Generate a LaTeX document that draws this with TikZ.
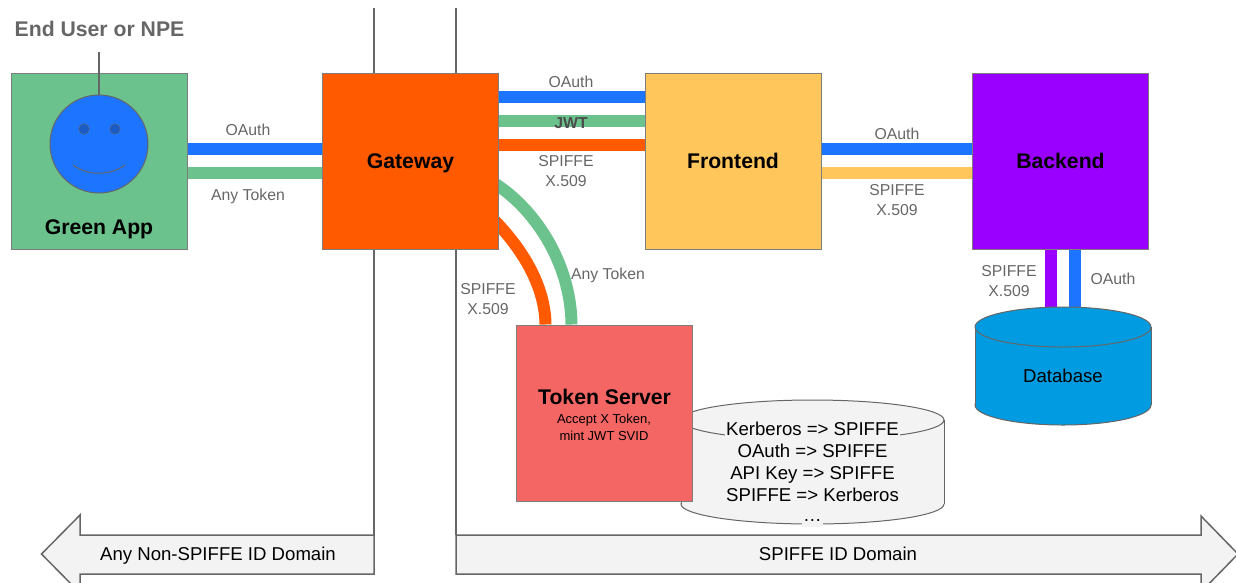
\documentclass[tikz,border=0pt]{standalone}
\usepackage{fontspec}
\setmainfont{Liberation Sans}
\usetikzlibrary{backgrounds}
\definecolor{linegray}{HTML}{666666}
\definecolor{palegray}{HTML}{F3F3F3}
\definecolor{tokenblue}{HTML}{1C74FF}
\definecolor{tokengreen}{HTML}{6CC28D}
\definecolor{tokenorange}{HTML}{FF5A00}
\definecolor{tokenyellow}{HTML}{FFC65C}
\definecolor{tokenpurple}{HTML}{9900FF}
\definecolor{tokenred}{HTML}{F46664}
\definecolor{dbblue}{HTML}{009BE0}
\definecolor{eyeblue}{HTML}{1A5CC4}
\tikzset{
  servicebox/.style={draw=linegray!85, line width=1pt, minimum size=176pt, inner sep=0pt, text height=15pt, text depth=0pt, font=\fontsize{21.2}{25}\selectfont\bfseries},
  boldtext/.style={font=\fontsize{21.2}{25}\selectfont\bfseries},
  tokenbar/.style={line width=12pt},
  bartext/.style={text=linegray, align=center, font=\fontsize{15.8}{20}\selectfont},
  plaintext/.style={font=\fontsize{18.6}{22}\selectfont},
  outline/.style={draw=linegray, line width=1.5pt},
  eye/.style={circle, draw=linegray, fill=eyeblue, minimum size=10.5pt, inner sep=0pt}
}
% #1 x, #2 top y, #3 bottom y, #4 x radius, #5 fill
\newcommand{\drumshape}[5]{
  \draw [draw=linegray, line width=1pt, fill=#5](#1, #3) ellipse [x radius=#4, y radius=20];
  \fill [#5](#1 - #4, #2) rectangle (#1 + #4, #3);
  \draw [linegray, line width=1pt](#1 - #4, #2) -- (#1 - #4, #3);
  \draw [linegray, line width=1pt](#1 + #4, #2) -- (#1 + #4, #3);
  \draw [draw=linegray, line width=1pt, fill=#5](#1, #2) ellipse [x radius=#4, y radius=20];
}
\begin{document}
\begin{tikzpicture}[x=1pt, y=-1pt]
\useasboundingbox (0, 0) rectangle (1236, 582);
\clip (0, 0) rectangle (1236, 582);
\coordinate (lefttop) at (374, 8);
\coordinate (leftbottom) at (374, 535);
\coordinate (righttop) at (456, 8);
\coordinate (rightbottom) at (456, 535);
\draw [outline, fill=palegray](374, 535) -- (80, 535) -- (80, 515) -- (41.5, 554) -- (80, 593) -- (80, 574) -- (374, 574) -- cycle;
\draw [outline, fill=palegray](456, 535) -- (1201, 535) -- (1201, 516) -- (1238, 554) -- (1201, 592) -- (1201, 574) -- (456, 574) -- cycle;
\draw [outline](lefttop) -- (leftbottom);
\draw [outline](righttop) -- (rightbottom);
\node [plaintext] (otherdomain) at (218, 556) {Any Non-SPIFFE ID Domain};
\node [plaintext] (spiffedomain) at (838, 554) {SPIFFE ID Domain};

\node [servicebox, fill=tokengreen] (app) at (99, 161) {};
\node [servicebox, fill=tokenorange] (gateway) at (410.5, 161) {Gateway};
\node [servicebox, fill=tokenyellow] (frontend) at (733, 161) {Frontend};
\node [servicebox, fill=tokenpurple] (backend) at (1060.5, 161) {Backend};
\drumshape{812.5}{420}{504}{131.5}{palegray}
\node [servicebox, fill=tokenred] (tokenserver) at (604.5, 413) {};
\drumshape{1063}{327}{405}{88}{dbblue}
\node [minimum width=176pt, minimum height=118pt, inner sep=0pt] (database) at (1063, 366) {};

\draw [tokenbar, tokenblue](app.east |- 0, 149) -- (gateway.west |- 0, 149);
\draw [tokenbar, tokengreen](app.east |- 0, 173) -- (gateway.west |- 0, 173);
\draw [tokenbar, tokenblue](gateway.east |- 0, 97) -- (frontend.west |- 0, 97);
\draw [tokenbar, tokengreen](gateway.east |- 0, 121) -- (frontend.west |- 0, 121);
\draw [tokenbar, tokenorange](gateway.east |- 0, 145) -- (frontend.west |- 0, 145);
\draw [tokenbar, tokenblue](frontend.east |- 0, 149) -- (backend.west |- 0, 149);
\draw [tokenbar, tokenyellow](frontend.east |- 0, 173) -- (backend.west |- 0, 173);
\begin{scope}[on background layer]
\draw [tokenbar, tokenpurple](1051, 0 |- backend.south) -- (1051, 0 |- database.north);
\draw [tokenbar, tokenblue](1075, 0 |- backend.south) -- (1075, 0 |- database.north);
\coordinate (greenstart) at (489, 180);
\coordinate (orangestart) at (489, 215);
\draw [tokenbar, tokengreen](greenstart) .. controls (533, 205) and (571, 262) .. (tokenserver.north -| 571.5, 0);
\draw [tokenbar, tokenorange](orangestart) .. controls (515, 240) and (545, 280) .. (tokenserver.north -| 545.5, 0);
\end{scope}

% face inside the app box
\node [circle, draw=linegray, line width=1pt, fill=tokenblue, minimum size=98pt, inner sep=0pt] (face) at (99, 144) {};
\coordinate (facetop) at (99, 52);
\draw [linegray, line width=1.5pt](face.north) -- (facetop);
\node [eye] (lefteye) at (84, 129) {};
\node [eye] (righteye) at (115, 129) {};
\draw [linegray, line width=1pt](73, 165) .. controls (88, 176) and (110, 176) .. (125, 165);
\node [boldtext, text=linegray] (enduser) at (99.5, 29) {End User or NPE};
\node [boldtext] (appname) at (99, 229) {Green App};

\node [boldtext] (tokentitle) at (604.5, 397) {Token Server};
\node [font=\fontsize{13}{17}\selectfont, align=center] (tokennote) at (604, 427) {Accept X Token,\\mint JWT SVID};
\node [plaintext] (databasename) at (1063, 376) {Database};

\foreach \ruleline/\ruletext/\ruley in {a/Kerberos => SPIFFE/431, b/OAuth => SPIFFE/453, c/API Key => SPIFFE/475, d/SPIFFE => Kerberos/497, e/\dots/517}
  \node [plaintext, fill=palegray, inner sep=1pt, text height=13pt, text depth=4pt] (rule\ruleline) at (812.5, \ruley) {\ruletext};

\node [bartext] (oauthone) at (248, 130) {OAuth};
\node [bartext] (anyone) at (248, 196) {Any Token};
\node [bartext] (oauthtwo) at (571, 82) {OAuth};
\node [bartext, text=black!70, font=\fontsize{15.8}{20}\selectfont\bfseries] (jwt) at (571, 123) {JWT};
\node [bartext] (spiffeone) at (566, 171) {SPIFFE\\X.509};
\node [bartext] (anytwo) at (608, 275) {Any Token};
\node [bartext] (spiffetwo) at (488, 299) {SPIFFE\\X.509};
\node [bartext] (oauththree) at (897, 134) {OAuth};
\node [bartext] (spiffethree) at (897, 200) {SPIFFE\\X.509};
\node [bartext] (spiffefour) at (1009, 281) {SPIFFE\\X.509};
\node [bartext] (oauthfour) at (1113, 279) {OAuth};
\end{tikzpicture}
\end{document}
